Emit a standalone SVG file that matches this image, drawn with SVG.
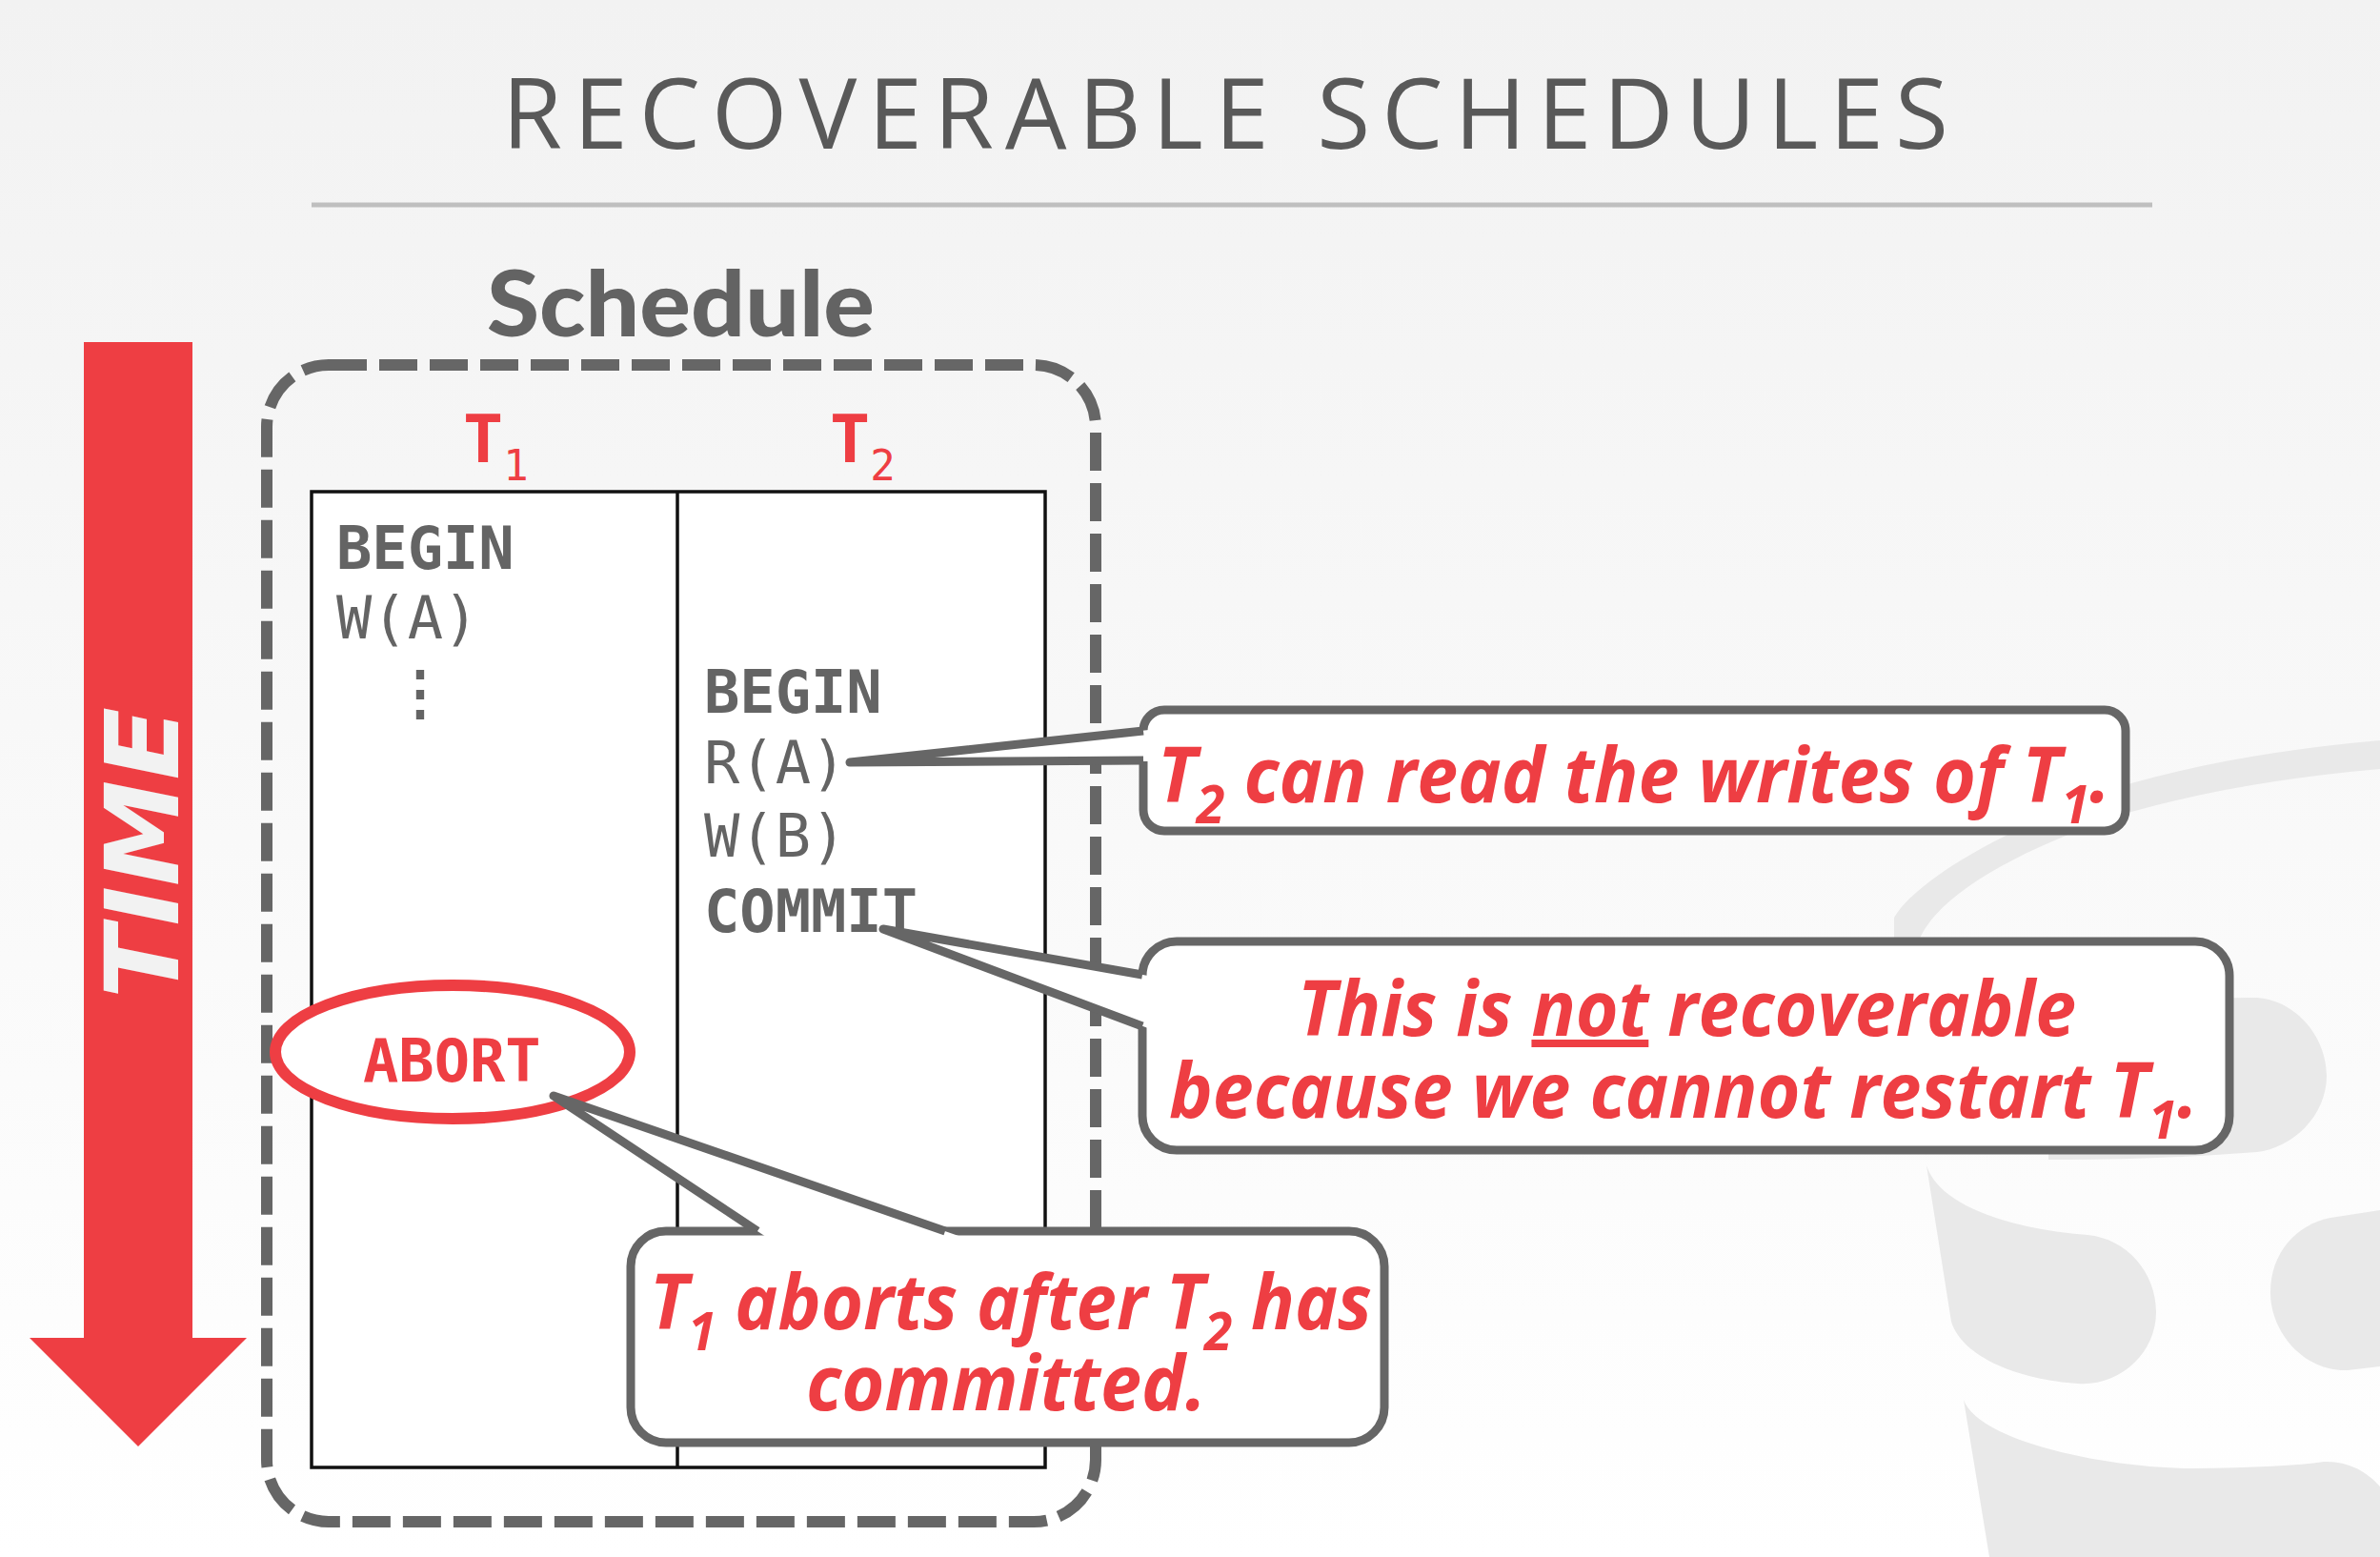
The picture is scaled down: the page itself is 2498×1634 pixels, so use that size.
<svg xmlns="http://www.w3.org/2000/svg" width="2498" height="1634" viewBox="0 0 2498 1634">
<defs>
<linearGradient id="bg" x1="0" y1="0" x2="0" y2="1">
<stop offset="0" stop-color="#f2f2f2"/>
<stop offset="1" stop-color="#ffffff"/>
</linearGradient>
<style>
.wm{fill:#e9e9e9}
.code{font-family:"DejaVu Sans Mono",monospace;font-size:62px;fill:#646464}
.b{font-weight:bold}
.tl{font-family:"DejaVu Sans Mono",monospace;font-size:70px;font-weight:bold;fill:#ee3e43}
.sub{font-size:44px;font-weight:normal}
.box{fill:#ffffff;stroke:#666666;stroke-width:9}
.ptr{fill:none;stroke:#666666;stroke-width:9;stroke-linejoin:round;stroke-linecap:butt}
.ptrfill{fill:#ffffff;stroke:none}
.ct{font-family:"Open Sans",sans-serif;font-weight:bold;font-style:italic;font-size:80px;fill:#ee3e43}
.cs{font-size:56px}
</style>
</defs>

<rect x="0" y="0" width="2498" height="1634" fill="url(#bg)"/>

<g id="watermark">
<path class="wm" d="M 1988 990 L 1988 963 C 2010 925, 2100 870, 2237 822 Q 2350 790, 2498 777 L 2498 807 Q 2350 820, 2237 852 C 2120 890, 2030 940, 2013 990 Z"/>
<path class="wm" d="M 2150 1050 L 2362 1047 C 2405 1045, 2442 1085, 2442 1129 C 2442 1172, 2405 1205, 2369 1209 Q 2250 1218, 2150 1217 Z"/>
<path class="wm" d="M 2022 1223 C 2035 1265, 2110 1290, 2191 1296 C 2232 1300, 2263 1335, 2263 1377 C 2263 1420, 2225 1455, 2181 1452 C 2120 1448, 2060 1425, 2048 1387 Z"/>
<path class="wm" d="M 2498 1270 L 2446 1278 C 2410 1285, 2383 1315, 2383 1356 C 2383 1400, 2420 1440, 2464 1438 L 2498 1434 Z"/>
<path class="wm" d="M 2061 1469 C 2075 1510, 2200 1540, 2300 1541 Q 2400 1540, 2439 1534 C 2465 1533, 2485 1545, 2498 1560 L 2498 1634 L 2088 1634 Z"/>
</g>

<g id="title">
<text x="527" y="156" font-family="Open Sans, sans-serif" font-size="102" fill="#595959" textLength="1518" lengthAdjust="spacing">RECOVERABLE SCHEDULES</text>
<line x1="327" y1="215" x2="2259" y2="215" stroke="#bfbfbf" stroke-width="5"/>
</g>

<g id="time-arrow">
<path d="M 88 359 L 202 359 L 202 1404 L 259 1404 L 145 1518 L 31 1404 L 88 1404 Z" fill="#ee3e43"/>
<text transform="translate(187,895) rotate(-90)" text-anchor="middle" font-family="DejaVu Sans, sans-serif" font-weight="bold" font-style="italic" font-size="107" fill="#f2f2f2" textLength="306" lengthAdjust="spacingAndGlyphs">TIME</text>
</g>

<g id="schedule-label">
<text x="511" y="353" font-family="Lato, sans-serif" font-weight="900" font-size="95" fill="#636363" textLength="407" lengthAdjust="spacingAndGlyphs">Schedule</text>
</g>

<g id="schedule-box">
<rect x="280" y="383" width="870" height="1214" rx="65" ry="65" fill="none" stroke="#666666" stroke-width="12" stroke-dasharray="40 13"/>
</g>

<g id="table">
<rect x="327" y="516" width="770" height="1024" fill="#ffffff" stroke="#111111" stroke-width="3.5"/>
<line x1="711" y1="516" x2="711" y2="1540" stroke="#111111" stroke-width="3.5"/>
</g>

<g id="t1-header">
<text class="tl" x="486" y="485">T<tspan class="sub" dy="19">1</tspan></text>
</g>
<g id="t2-header">
<text class="tl" x="871" y="485">T<tspan class="sub" dy="19">2</tspan></text>
</g>

<g id="t1-ops">
<text class="code b" x="353" y="597">BEGIN</text>
<text class="code" x="353" y="670">W(A)</text>
<text class="code" x="441" y="748" text-anchor="middle" font-family="DejaVu Sans, sans-serif" font-weight="bold">⋮</text>
</g>

<g id="t2-ops">
<text class="code b" x="739" y="748">BEGIN</text>
<text class="code" x="739" y="822">R(A)</text>
<text class="code" x="739" y="899">W(B)</text>
<text class="code b" x="739" y="978">COMMIT</text>
</g>

<g id="abort">
<ellipse cx="475" cy="1104" rx="186" ry="70" fill="#ffffff" stroke="#ee3e43" stroke-width="12"/>
<text x="381" y="1135" font-family="DejaVu Sans Mono, monospace" font-weight="bold" font-size="62" fill="#ee3e43">ABORT</text>
</g>

<g id="callout-read">
<rect class="box" x="1200" y="745" width="1031" height="127" rx="22" ry="22"/>
<text class="ct" x="1215" y="842" textLength="1000" lengthAdjust="spacingAndGlyphs">T<tspan class="cs" dy="22">2</tspan><tspan dy="-22"> can read the writes of T</tspan><tspan class="cs" dy="22">1</tspan><tspan dy="-22">.</tspan></text>
</g>

<g id="callout-recoverable">
<rect class="box" x="1199" y="988" width="1141" height="219" rx="36" ry="36"/>
<text class="ct" x="1362" y="1087" textLength="817" lengthAdjust="spacingAndGlyphs">This is <tspan text-decoration="underline">not</tspan> recoverable</text>
<text class="ct" x="1227" y="1173" textLength="1080" lengthAdjust="spacingAndGlyphs">because we cannot restart T<tspan class="cs" dy="22">1</tspan><tspan dy="-22">.</tspan></text>
</g>

<g id="callout-abort">
<rect class="box" x="662" y="1292" width="791" height="222" rx="37" ry="37"/>
<text class="ct" x="682" y="1395" textLength="758" lengthAdjust="spacingAndGlyphs">T<tspan class="cs" dy="22">1</tspan><tspan dy="-22"> aborts after T</tspan><tspan class="cs" dy="22">2</tspan><tspan dy="-22"> has</tspan></text>
<text class="ct" x="846" y="1480" textLength="420" lengthAdjust="spacingAndGlyphs">committed.</text>
</g>

<g id="connectors">
<path class="ptrfill" d="M 1206 766 L 892 800 L 1206 799 Z"/>
<path class="ptr" d="M 1200 767 L 892 800 L 1200 798"/>
<path class="ptrfill" d="M 1205 1024 L 927 975 L 1205 1079 Z"/>
<path class="ptr" d="M 1199 1023 L 927 975 L 1199 1077"/>
<path class="ptrfill" d="M 804 1298 L 581 1150 L 1009 1298 Z"/>
<path class="ptr" d="M 795 1292 L 581 1150 L 992 1292"/>
</g>
</svg>
